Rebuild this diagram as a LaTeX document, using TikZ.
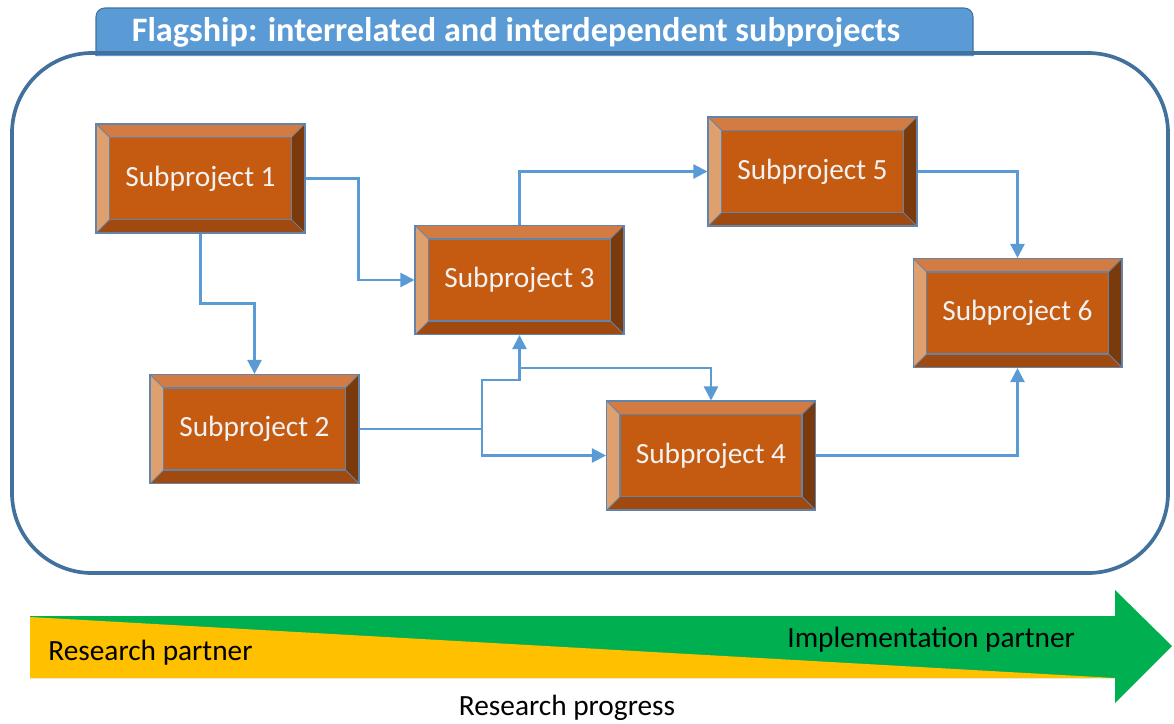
\documentclass[tikz,border=0pt]{standalone}
\usepackage{fontspec}
\setmainfont{Carlito}
\usetikzlibrary{arrows.meta,positioning}

\definecolor{rust}{HTML}{C55A11}
\definecolor{facetop}{HTML}{D27C44}
\definecolor{faceleft}{HTML}{DFA06F}
\definecolor{faceright}{HTML}{7B3A0B}
\definecolor{facebot}{HTML}{A04A10}
\definecolor{edge}{HTML}{6384AA}
\definecolor{linkblue}{HTML}{5B9BD5}
\definecolor{frameblue}{HTML}{41719C}
\definecolor{progyellow}{HTML}{FFC000}
\definecolor{proggreen}{HTML}{00B050}

\newcommand{\bev}{0.27cm}

\begin{document}
\begin{tikzpicture}[x=0.02cm,y=-0.02cm,
  substyle/.style={draw=edge,line width=0.6pt,fill=rust,
    minimum width=4.18cm,minimum height=2.18cm,inner sep=0pt,
    text=white!95!black,font=\fontsize{16.7}{19}\selectfont,
    path picture={
      \path (path picture bounding box.north west) coordinate (bnw)
            (path picture bounding box.north east) coordinate (bne)
            (path picture bounding box.south east) coordinate (bse)
            (path picture bounding box.south west) coordinate (bsw)
            ([shift={(\bev,-\bev)}]bnw) coordinate (inw)
            ([shift={(-\bev,-\bev)}]bne) coordinate (ine)
            ([shift={(-\bev,\bev)}]bse) coordinate (ise)
            ([shift={(\bev,\bev)}]bsw) coordinate (isw);
      \filldraw[draw=edge,line width=0.4pt,fill=facetop] (bnw) -- (bne) -- (ine) -- (inw) -- cycle;
      \filldraw[draw=edge,line width=0.4pt,fill=faceright] (bne) -- (bse) -- (ise) -- (ine) -- cycle;
      \filldraw[draw=edge,line width=0.4pt,fill=facebot] (bse) -- (bsw) -- (isw) -- (ise) -- cycle;
      \filldraw[draw=edge,line width=0.4pt,fill=faceleft] (bsw) -- (bnw) -- (inw) -- (isw) -- cycle;
      \draw[edge,line width=0.6pt] (inw) rectangle (ise);
    }},
  link/.style={draw=linkblue,line width=1.3pt,-{Triangle[width=8pt,length=8pt]}},
  plain/.style={text=black,font=\fontsize{16.7}{19}\selectfont,inner sep=0pt}]

\useasboundingbox (0,0) rectangle (1174,724);

% flagship frame
\draw[draw=frameblue,line width=0.6pt,fill=linkblue,rounded corners=5pt]
  (96,56) -- (96,8) -- (973,8) -- (973,56);
\node[text=white,font=\fontsize{19.5}{22}\selectfont\bfseries] (title) at (516,32)
  {Flagship: interrelated and interdependent subprojects};
\draw[draw=frameblue,line width=2.1pt,rounded corners=1.6cm] (12,53) rectangle (1168,573);

% subprojects
\node[substyle] (s1) at (200.5,178.5) {Subproject 1};
\node[substyle] (s2) at (254.5,429) {Subproject 2};
\node[substyle] (s3) at (519.5,280) {Subproject 3};
\node[substyle] (s4) at (711,455.5) {Subproject 4};
\node[substyle] (s5) at (812.5,171.5) {Subproject 5};
\node[substyle] (s6) at (1017.5,313) {Subproject 6};

% links
\coordinate (hub) at (482,429);
\coordinate (knee) at (519.5,380);
\coordinate (tee) at (519.5,368);
\draw[link] (s1.east) -- ++(53,0) |- (s3.west);
\draw[link] (s1.south) -- ++(0,70) -| (s2.north);
\draw[link] (s3.north) |- (s5.west);
\draw[link] (s5.east) -| (s6.north);
\draw[link] (s4.east) -| (s6.south);
\draw[link] (s2.east) -- (hub) |- (knee) -- (s3.south);
\draw[link] (tee) -| (s4.north);
\draw[link] (hub) |- (s4.west);

% progress arrow
\fill[proggreen] (30,616) -- (1115,616) -- (1115,590) -- (1172,646)
  -- (1115,703) -- (1115,678) -- (30,678) -- cycle;
\fill[progyellow] (30,617) -- (1115,678) -- (30,678) -- cycle;
\node[plain,anchor=west] (rp) at (48,653) {Research partner};
\node[plain,anchor=west] (ip) at (787,640) {Implementation partner};
\node[plain] (prog) at (567,708) {Research progress};
\end{tikzpicture}
\end{document}
